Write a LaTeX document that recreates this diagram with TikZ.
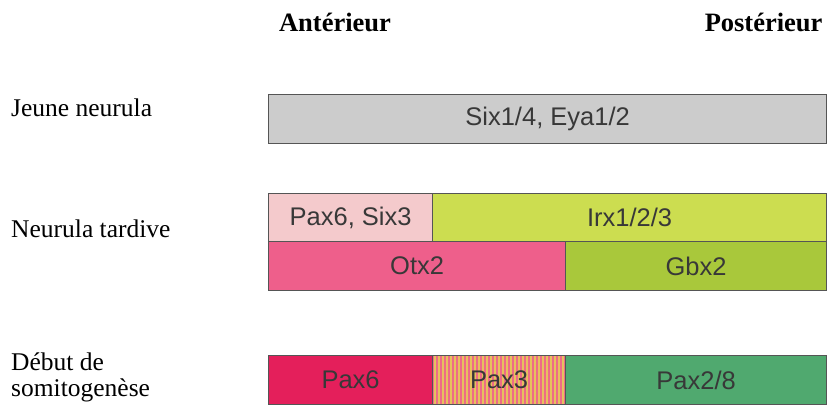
\documentclass[tikz,border=0pt]{standalone}
\usepackage{fontspec}
\setmainfont{Liberation Serif}
\setsansfont{Liberation Sans}
\usetikzlibrary{positioning}

\definecolor{grisbox}{HTML}{CCCCCC}
\definecolor{roseclair}{HTML}{F4CACC}
\definecolor{vertjaune}{HTML}{CCDD50}
\definecolor{roseotx}{HTML}{EE5F8B}
\definecolor{vertgbx}{HTML}{A9C83B}
\definecolor{rougepax}{HTML}{E41F5B}
\definecolor{vertpax}{HTML}{50A96F}
\definecolor{rosestrie}{HTML}{EE6C86}
\definecolor{jaunestrie}{HTML}{E6C25E}
\definecolor{bord}{HTML}{555555}
\definecolor{texte}{HTML}{383838}

\begin{document}
\begin{tikzpicture}[x=1pt, y=-1pt,
    head/.style={font=\fontsize{26.5}{28}\selectfont\bfseries},
    stage/.style={font=\fontsize{25.5}{26}\selectfont, anchor=west, align=left, inner sep=0pt},
    gene/.style={draw=bord, line width=1.2pt, anchor=north west, inner sep=0pt,
        text=texte, font=\sffamily\fontsize{25.5}{27}\selectfont},
    row/.style={gene, minimum height=49pt}]
\useasboundingbox (0,0) rectangle (828,407);

% En-tetes
\node[head] (ant) at (335,22) {Antérieur};
\node[head, anchor=east] (post) at (826,22) {Postérieur};

% Stades
\node[stage] (jeune) at (11,108) {Jeune neurula};
\node[stage] (tardive) at (11,229) {Neurula tardive};
\node[stage] (debut) at (11,377) {Début de\\somitogenèse};

% Jeune neurula
\node[row, fill=grisbox, minimum width=558pt] (six) at (268,94) {Six1/4, Eya1/2};

% Neurula tardive
\node[row, fill=roseclair, minimum width=164pt, minimum height=48pt] (paxsix) at (268,193) {Pax6, Six3};
\node[row, fill=vertjaune, minimum width=394pt, minimum height=48pt] (irx) at (432,193) {Irx1/2/3};
\node[row, fill=roseotx, minimum width=297pt] (otx) at (268,241) {Otx2};
\node[row, fill=vertgbx, minimum width=261pt] (gbx) at (565,241) {Gbx2};

% Debut de somitogenese
\node[row, fill=rougepax, minimum width=164pt] (paxsix2) at (268,355) {Pax6};
\node[row, fill=rosestrie, minimum width=133pt,
    path picture={
        \foreach \i in {1,5,...,133}
            \fill[jaunestrie] ([xshift=\i pt]path picture bounding box.north west) rectangle ++(2pt,-50pt);
    }] (paxtrois) at (432,355) {Pax3};
\node[row, fill=vertpax, minimum width=261pt] (paxdeux) at (565,355) {Pax2/8};
\end{tikzpicture}
\end{document}
